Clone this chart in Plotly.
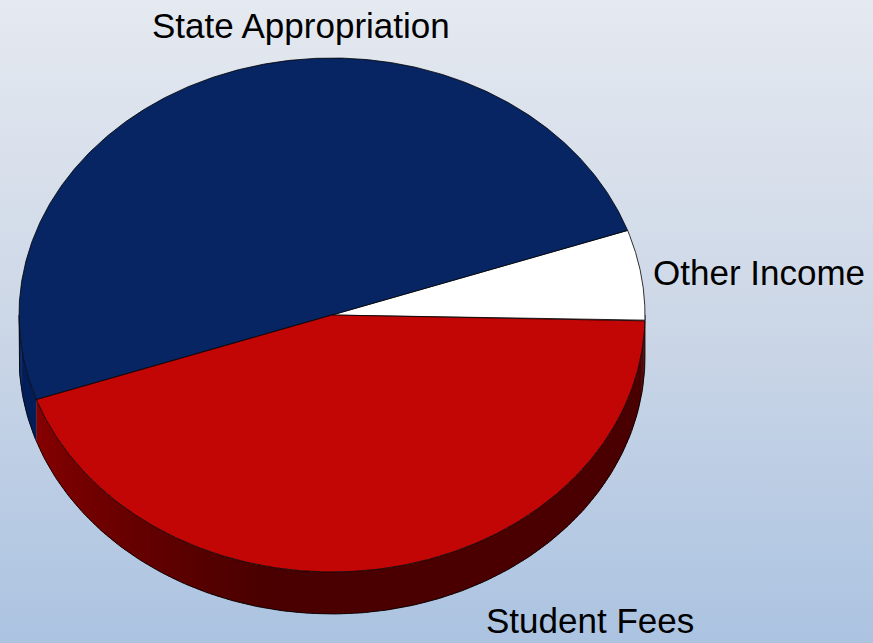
import base64
import numpy as np
import plotly.graph_objects as go

# ---- data ----
labels = ["Other Income", "State Appropriation", "Student Fees"]
values = [5.7, 50.0, 44.3]
top_colors = ["#ffffff", "#062562", "#c20505"]

# ---- geometry / style ----
W, H = 873, 643
CX, CY = 332.0, 315.0
RX, RY = 313.0, 257.0
DEPTH = 42.0
START_DEG = -1.3

def ept(theta_deg, dy=0.0):
    t = np.radians(theta_deg)
    return CX + RX * np.cos(t), CY - RY * np.sin(t) + dy

def hex2rgb(h):
    h = h.lstrip("#")
    return tuple(int(h[i:i + 2], 16) for i in (0, 2, 4))

def lerp_col(c1, c2, f):
    a, b = hex2rgb(c1), hex2rgb(c2)
    return "rgb(%d,%d,%d)" % tuple(round(a[i] + (b[i] - a[i]) * f) for i in range(3))

def wall_color(label, theta):
    if label == "Student Fees":
        f = min(max((theta - 199.0) / (258.0 - 199.0), 0.0), 1.0)
        return lerp_col("#870000", "#4a0000", f)
    if label == "State Appropriation":
        return "rgb(3,30,88)"
    return "rgb(200,200,200)"

total = sum(values)
spans = []
a = START_DEG
for lab, v in zip(labels, values):
    b = a + 360.0 * v / total
    spans.append((lab, a, b))
    a = b

fig = go.Figure()

# ---- side walls (front half only: 180..360 deg) ----
for lab, a0, a1 in spans:
    for off in (0.0, 360.0, -360.0):
        lo = max(a0 + off, 180.0)
        hi = min(a1 + off, 360.0)
        if hi <= lo:
            continue
        edges = np.arange(lo, hi, 1.0).tolist() + [hi]
        for i in range(len(edges) - 1):
            s0, s1 = edges[i], min(edges[i + 1] + 0.6, hi)
            ts = np.linspace(s0, s1, 6)
            xt, yt = ept(ts)
            xb, yb = ept(ts[::-1], DEPTH)
            xs = np.concatenate([xt, xb, xt[:1]])
            ys = np.concatenate([yt, yb, yt[:1]])
            fig.add_trace(go.Scatter(
                x=xs, y=ys, mode="lines", fill="toself",
                fillcolor=wall_color(lab, (s0 + s1) / 2),
                line=dict(width=0), hoverinfo="skip", showlegend=False))

# wall outline: bottom arc + left edge
ts = np.linspace(180, 360, 300)
xb, yb = ept(ts, DEPTH)
xl0, yl0 = ept(180.0)
xr0, yr0 = ept(360.0)
fig.add_trace(go.Scatter(
    x=np.concatenate([[xl0], xb, [xr0]]), y=np.concatenate([[yl0], yb, [yr0]]),
    mode="lines", line=dict(color="#000000", width=0.8),
    hoverinfo="skip", showlegend=False))

# ---- top faces ----
for (lab, a0, a1), col in zip(spans, top_colors):
    ts = np.linspace(a0, a1, 400)
    xs, ys = ept(ts)
    xs = np.concatenate([[CX], xs, [CX]])
    ys = np.concatenate([[CY], ys, [CY]])
    fig.add_trace(go.Scatter(
        x=xs, y=ys, mode="lines", fill="toself", fillcolor=col,
        line=dict(color="#000000", width=0.8),
        name=lab, hoverinfo="name", showlegend=False))

# ---- labels ----
label_pos = {
    "State Appropriation": (301, 25, "center", "middle"),
    "Other Income": (651, 272, "left", "middle"),
    "Student Fees": (484, 642, "left", "bottom"),
}
for lab in labels:
    x, y, anc, vanc = label_pos[lab]
    fig.add_annotation(x=x, y=y, text=lab, showarrow=False, xanchor=anc,
                       yanchor=vanc, xref="x", yref="y",
                       font=dict(family="Liberation Sans, Arial, sans-serif",
                                 size=35, color="#000000"))

# ---- background gradient ----
svg = ('<svg xmlns="http://www.w3.org/2000/svg" width="873" height="643" '
       'preserveAspectRatio="none"><defs><linearGradient id="g" x1="0" y1="0" '
       'x2="0" y2="1"><stop offset="0" stop-color="#e5e9f0"/>'
       '<stop offset="0.5" stop-color="#ccd7e7"/>'
       '<stop offset="1" stop-color="#abc3e1"/></linearGradient></defs>'
       '<rect width="873" height="643" fill="url(#g)"/></svg>')
src = "data:image/svg+xml;base64," + base64.b64encode(svg.encode()).decode()

fig.update_layout(
    width=W, height=H,
    margin=dict(l=0, r=0, t=0, b=0),
    paper_bgcolor="#d5deeb",
    plot_bgcolor="rgba(0,0,0,0)",
    xaxis=dict(range=[0, W], visible=False, fixedrange=True),
    yaxis=dict(range=[H, 0], visible=False, fixedrange=True),
    images=[dict(source=src, xref="paper", yref="paper", x=0, y=1,
                 sizex=1, sizey=1, xanchor="left", yanchor="top",
                 sizing="stretch", layer="below")],
    showlegend=False,
)

fig.write_html("out.html", config={"displayModeBar": False},
               post_script="document.body.style.margin='0';document.body.style.overflow='hidden';")
